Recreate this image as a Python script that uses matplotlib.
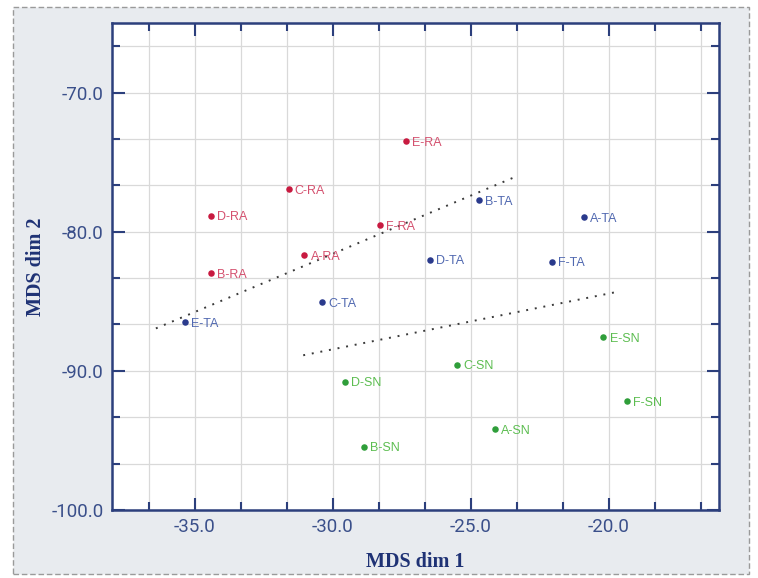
import matplotlib
matplotlib.use("Agg")
import matplotlib.pyplot as plt
from matplotlib.ticker import MultipleLocator, FormatStrFormatter
from matplotlib.patches import Rectangle

# MDS coordinates per group
ra_labels = ["A-RA", "B-RA", "C-RA", "D-RA", "E-RA", "F-RA"]
ra_x = [-31.03, -34.42, -31.60, -34.42, -27.35, -28.30]
ra_y = [-81.68, -82.97, -76.94, -78.85, -73.47, -79.52]

ta_labels = ["A-TA", "B-TA", "C-TA", "D-TA", "E-TA", "F-TA"]
ta_x = [-20.91, -24.71, -30.39, -26.47, -35.36, -22.07]
ta_y = [-78.95, -77.75, -85.08, -82.01, -86.49, -82.16]

sn_labels = ["A-SN", "B-SN", "C-SN", "D-SN", "E-SN", "F-SN"]
sn_x = [-24.13, -28.88, -25.50, -29.55, -20.19, -19.33]
sn_y = [-94.17, -95.46, -89.55, -90.77, -87.57, -92.19]

# separating guide lines (x pairs, y pairs)
sep1_x = [-36.41, -23.35]
sep1_y = [-86.95, -76.03]
sep2_x = [-31.07, -19.71]
sep2_y = [-88.88, -84.33]

x_ticks = [-35.0, -30.0, -25.0, -20.0]
y_ticks = [-70.0, -80.0, -90.0, -100.0]

groups = [
    (ra_labels, ra_x, ra_y, "#c81a40", "#d4506e"),
    (ta_labels, ta_x, ta_y, "#2a3a8c", "#5068b0"),
    (sn_labels, sn_x, sn_y, "#2f9e3a", "#5cbd50"),
]

spine_col = "#2c3f7c"
tick_col = "#3a4f8a"
label_col = "#1f3275"

fig = plt.figure(figsize=(7.58, 5.78), dpi=100)
fig.patch.set_facecolor("white")

# grey panel with dashed frame, drawn behind the axes
panel = Rectangle((13 / 758, 4 / 578), 736 / 758, 567 / 578,
                  transform=fig.transFigure, facecolor="#e8ebef",
                  edgecolor="#9a9a9a", linestyle=(0, (4, 2)), linewidth=1.0,
                  zorder=-10)
fig.add_artist(panel)

ax = fig.add_axes([112 / 758, 1 - 510 / 578, 607 / 758, 487 / 578])
ax.set_zorder(1)
ax.set_facecolor("white")
ax.set_xlim(-38.0, -16.0)
ax.set_ylim(-100.0, -65.0)

ax.set_xticks(x_ticks)
ax.set_yticks(y_ticks)
ax.xaxis.set_minor_locator(MultipleLocator(5 / 3))
ax.yaxis.set_minor_locator(MultipleLocator(10 / 3))
ax.xaxis.set_major_formatter(FormatStrFormatter("%.1f"))
ax.yaxis.set_major_formatter(FormatStrFormatter("%.1f"))

ax.grid(True, which="both", color="#d9d9d9", linewidth=0.9)
ax.set_axisbelow(True)

for s in ax.spines.values():
    s.set_color(spine_col)
    s.set_linewidth(1.8)

ax.tick_params(which="both", direction="in", top=True, right=True,
               color=spine_col, width=1.5, labelcolor=tick_col)
ax.tick_params(which="major", length=9, pad=6)
ax.tick_params(which="minor", length=6)

tick_font = ["Roboto", "DejaVu Sans"]
for lab in ax.get_xticklabels() + ax.get_yticklabels():
    lab.set_fontfamily(tick_font)
    lab.set_fontsize(13.5)

# guide lines
for gx, gy in [(sep1_x, sep1_y), (sep2_x, sep2_y)]:
    ax.plot(gx, gy, color="#3a3a3a", linestyle=(0, (1, 3.5)), linewidth=1.4,
            zorder=2)

# points with labels
for labels, xs, ys, dot_col, txt_col in groups:
    ax.scatter(xs, ys, s=22, color=dot_col, zorder=4, linewidths=0)
    for lab, x, y in zip(labels, xs, ys):
        ax.annotate(lab, (x, y), xytext=(4.5, -1.2), textcoords="offset points",
                    ha="left", va="center", fontsize=9, color=txt_col,
                    fontfamily=["Liberation Sans", "DejaVu Sans"], zorder=5)

ax.set_xlabel("MDS dim 1", fontsize=14.5, fontweight="bold", color=label_col,
              fontfamily=["Liberation Serif", "DejaVu Serif"], labelpad=11)
ax.set_ylabel("MDS dim 2", fontsize=14.5, fontweight="bold", color=label_col,
              fontfamily=["Liberation Serif", "DejaVu Serif"], labelpad=4)

fig.savefig("out.png", dpi=100, facecolor=fig.get_facecolor())
